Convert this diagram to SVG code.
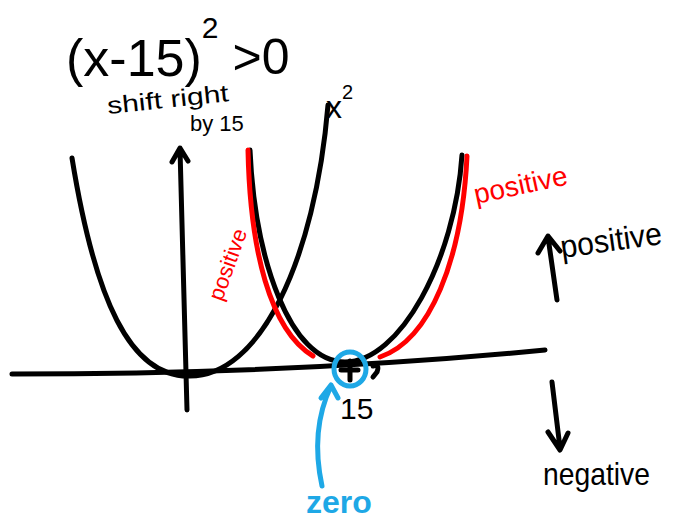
<svg xmlns="http://www.w3.org/2000/svg" width="673" height="523" viewBox="0 0 673 523">
<style>
.k{fill:none;stroke:#000;stroke-width:5;stroke-linecap:round;stroke-linejoin:round}
.r{fill:none;stroke:#f00;stroke-width:5;stroke-linecap:round;stroke-linejoin:round}
.b{fill:none;stroke:#1ea8e6;stroke-width:5;stroke-linecap:round;stroke-linejoin:round}
.t{font-family:"Liberation Sans",Arial,sans-serif;fill:#000}
</style>
<rect width="673" height="523" fill="#fff"/>
<g id="title">
<text class="t" x="66" y="76" font-size="52">(x-15)<tspan font-size="30" dy="-38">2</tspan><tspan font-size="50" dx="14" dy="36">&gt;0</tspan></text>
</g>
<g id="shift-note">
<text class="t" x="108" y="114" font-size="24" textLength="122" lengthAdjust="spacingAndGlyphs" transform="rotate(-6 108 114)">shift right</text>
<text class="t" x="190" y="131" font-size="22">by 15</text>
</g>
<g id="x2-label">
<text class="t" x="326" y="118" font-size="32">x<tspan font-size="20" dy="-19">2</tspan></text>
</g>
<g id="connectors">
<path class="k" d="M12,374 Q300,374 545,350"/>
<path class="k" d="M187,410 L180,149 M172,162 L180,148 L188,161"/>
<path class="k" d="M72,158 C95,300 130,376 188,376 C260,378 315,260 328,105"/>
<path class="k" d="M250,150 C255,260 290,362 345,362 C400,362 455,260 462,155"/>
<path class="r" d="M248,150 C250,250 270,330 313,356"/>
<path class="r" d="M380,357 C430,340 462,260 467,156"/>
<path class="k" d="M557,300 L548,237 M538,253 L548,236 L560,251"/>
<path class="k" d="M552,382 L560,448 M548,432 L560,450 L568,433"/>
<path class="b" d="M322,486 Q310,430 331,386 M321,398 L331,385 L338,398"/>
</g>
<g id="zero-point">
<ellipse class="b" cx="350" cy="369" rx="16" ry="17"/>
<path class="k" d="M341,370 H358 M350,361 V380" stroke-width="3.5"/>
<path class="k" d="M373,366 Q380,364 377,372 L373,377" stroke-width="3"/>
<text class="t" x="340" y="419" font-size="30">15</text>
</g>
<g id="zero-label">
<text x="306" y="513" font-size="32" font-family="Liberation Sans,Arial,sans-serif" fill="#1ea8e6" font-weight="bold">zero</text>
</g>
<g id="positive-labels">
<text x="476" y="204" font-size="28" font-family="Liberation Sans,Arial,sans-serif" fill="#f00" transform="rotate(-12 476 204)">positive</text>
<text x="222" y="302" font-size="22" font-family="Liberation Sans,Arial,sans-serif" fill="#f00" transform="rotate(-70 222 302)">positive</text>
<text class="t" x="562" y="258" font-size="32" textLength="102" lengthAdjust="spacingAndGlyphs" transform="rotate(-8 562 258)">positive</text>
<text class="t" x="543" y="485" font-size="32" textLength="107" lengthAdjust="spacingAndGlyphs">negative</text>
</g>
</svg>
